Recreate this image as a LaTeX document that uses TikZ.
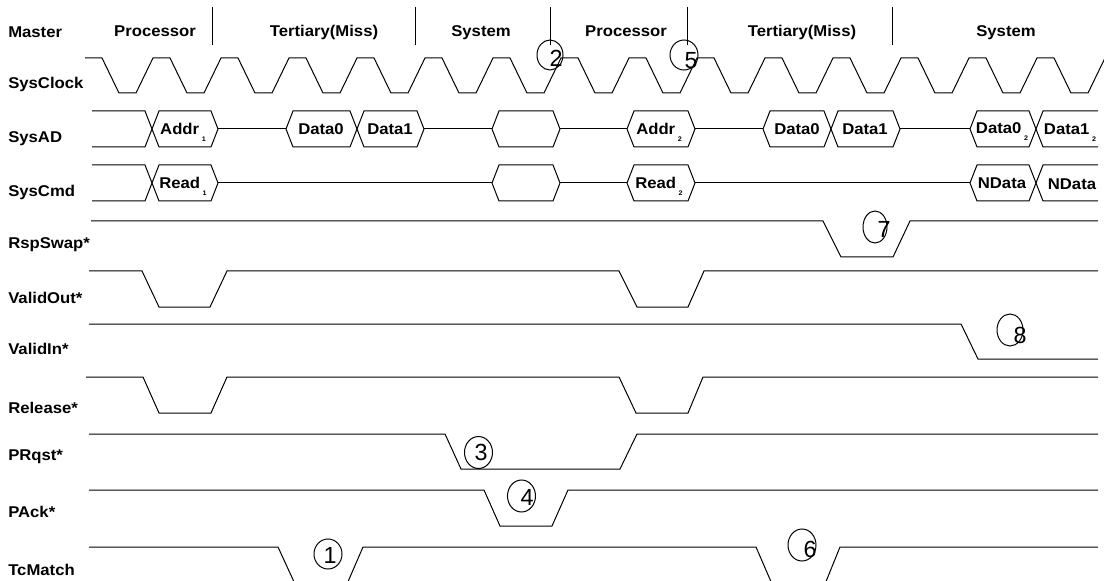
\documentclass[tikz,border=0pt]{standalone}
\usepackage{fontspec}
\setmainfont{Liberation Sans}[FakeStretch=1.07]
\newfontfamily\numfont{Liberation Sans}
\newcommand\subx[1]{\raisebox{-5pt}{\fontsize{5}{5}\selectfont\bfseries #1}}
\begin{document}
\begin{tikzpicture}[x=0.75pt,y=-0.75pt,
  wave/.style={line width=0.75pt, line join=miter},
  lbl/.style={font=\fontsize{11.7}{13}\selectfont\bfseries, inner sep=0pt, anchor=base west},
  hdr/.style={font=\fontsize{11.7}{13}\selectfont\bfseries, inner sep=0pt, anchor=base},
  btxt/.style={font=\fontsize{11.7}{13}\selectfont\bfseries, inner sep=0pt, anchor=base},
  numtxt/.style={font=\numfont\fontsize{17.5}{19}\selectfont, inner sep=0pt, anchor=center},
  ring/.style={line width=0.75pt}]
\useasboundingbox (0,0) rectangle (1104,581);
\clip (0,0) rectangle (1104,581);
\fill[white] (0,0) rectangle (1104,581);

% ---------- row labels ----------
\node[lbl] (lMaster) at (8,37.5) {Master};
\node[lbl] (lClk) at (8,88.5) {SysClock};
\node[lbl] (lAD) at (8,143) {SysAD};
\node[lbl] (lCmd) at (8,196.5) {SysCmd};
\node[lbl] (lRsp) at (8,249) {RspSwap*};
\node[lbl] (lVO) at (8,304) {ValidOut*};
\node[lbl] (lVI) at (8,354) {ValidIn*};
\node[lbl] (lRel) at (8,413) {Release*};
\node[lbl] (lPR) at (8,460) {PRqst*};
\node[lbl] (lPA) at (8,517.5) {PAck*};
\node[lbl] (lTc) at (8,575) {TcMatch};

% ---------- header ----------
\node[hdr] (h1) at (155,37) {Processor};
\node[hdr] (h2) at (324,37) {Tertiary(Miss)};
\node[hdr] (h3) at (481,37) {System};
\node[hdr] (h4) at (626,37) {Processor};
\node[hdr] (h5) at (802,37) {Tertiary(Miss)};
\node[hdr] (h6) at (1006,37) {System};
\foreach \xx in {212,415,550,687,892} \draw[wave] (\xx,7) -- (\xx,45);

% ---------- SysClock ----------
\draw[wave] (85,58) \foreach \k in {0,...,14} {
  -- ({102+68*\k},58) -- ({119+68*\k},93) -- ({136+68*\k},93) -- ({153+68*\k},58)} -- (1130,58);

% ---------- bus helpers ----------
\def\sl{7}
\def\hexAD#1#2{\draw[wave] (#1,129) -- ({#1+\sl},111) -- ({#2-\sl},111) -- (#2,129) -- ({#2-\sl},147) -- ({#1+\sl},147) -- cycle;}
\def\hexCmd#1#2{\draw[wave] (#1,183) -- ({#1+\sl},165) -- ({#2-\sl},165) -- (#2,183) -- ({#2-\sl},201) -- ({#1+\sl},201) -- cycle;}

% SysAD
\draw[wave] (92,111) -- (145,111) -- (152,129) -- (145,147) -- (92,147);
\hexAD{152}{218}
\draw[wave] (218,129) -- (286,129);
\hexAD{286}{357}
\hexAD{357}{424}
\draw[wave] (424,129) -- (492,129);
\hexAD{492}{560}
\draw[wave] (560,129) -- (627,129);
\hexAD{627}{695}
\draw[wave] (695,129) -- (763,129);
\hexAD{763}{831}
\hexAD{831}{900}
\draw[wave] (900,129) -- (970,129);
\hexAD{970}{1036}
\draw[wave] (1098,111) -- (1043,111) -- (1036,129) -- (1043,147) -- (1098,147);

\node[btxt] (tA1) at (183,135) {Addr\,\subx{1}};
\node[btxt] (tD0a) at (321,135) {Data0};
\node[btxt] (tD1a) at (390,135) {Data1};
\node[btxt] (tA2) at (659,135) {Addr\,\subx{2}};
\node[btxt] (tD0b) at (797,135) {Data0};
\node[btxt] (tD1b) at (865,135) {Data1};
\node[btxt] (tD0c) at (1002,134) {Data0\,\subx{2}};
\node[btxt] (tD1c) at (1070,135) {Data1\,\subx{2}};

% SysCmd
\draw[wave] (92,165) -- (145,165) -- (152,183) -- (145,201) -- (92,201);
\hexCmd{152}{218}
\draw[wave] (218,183) -- (492,183);
\hexCmd{492}{560}
\draw[wave] (560,183) -- (627,183);
\hexCmd{627}{695}
\draw[wave] (695,183) -- (970,183);
\hexCmd{970}{1036}
\draw[wave] (1098,165) -- (1043,165) -- (1036,183) -- (1043,201) -- (1098,201);

\node[btxt] (tR1) at (183,188.5) {Read\,\subx{1}};
\node[btxt] (tR2) at (659,188.5) {Read\,\subx{2}};
\node[btxt] (tN1) at (1002,188.5) {NData};
\node[btxt] (tN2) at (1072,189.5) {NData};

% ---------- control signals ----------
\draw[wave] (91,221) -- (823,221) -- (841,257) -- (893,257) -- (910,221) -- (1098,221);
\draw[wave] (89,271) -- (142,271) -- (159,307) -- (210,307) -- (227,271) -- (619,271) -- (637,307) -- (688,307) -- (704,271) -- (1098,271);
\draw[wave] (89,324) -- (961,324) -- (978,359) -- (1098,359);
\draw[wave] (86,377) -- (143,377) -- (159,413) -- (211,413) -- (227,377) -- (619,377) -- (636,413) -- (688,413) -- (703,377) -- (1098,377);
\draw[wave] (89,434) -- (445,434) -- (461,469) -- (620,469) -- (637,434) -- (1098,434);
\draw[wave] (89,490) -- (484,490) -- (500,526) -- (552,526) -- (568,490) -- (1098,490);
\draw[wave] (89,547) -- (278,547) -- (295,584) -- (347,584) -- (363,547) -- (756,547) -- (772,584) -- (825,584) -- (840,547) -- (1098,547);

% ---------- circled numbers ----------
\draw[ring] (328,554) ellipse [x radius=14, y radius=15];
\node[numtxt] (n1) at (330,555) {1};
\draw[ring] (550,55) ellipse [x radius=13, y radius=15];
\node[numtxt] (n2) at (556,58) {2};
\draw[ring] (478.5,452.5) ellipse [x radius=14, y radius=16];
\node[numtxt] (n3) at (481,452) {3};
\draw[ring] (521.5,496) ellipse [x radius=14, y radius=16];
\node[numtxt] (n4) at (527,497) {4};
\draw[ring] (684,55) ellipse [x radius=14, y radius=15];
\node[numtxt] (n5) at (691,61) {5};
\draw[ring] (802,545) ellipse [x radius=14, y radius=16];
\node[numtxt] (n6) at (810,549) {6};
\draw[ring] (875,227) ellipse [x radius=12, y radius=16];
\node[numtxt] (n7) at (884,229) {7};
\draw[ring] (1010,330) ellipse [x radius=13, y radius=16];
\node[numtxt] (n8) at (1020,335) {8};
\end{tikzpicture}
\end{document}
